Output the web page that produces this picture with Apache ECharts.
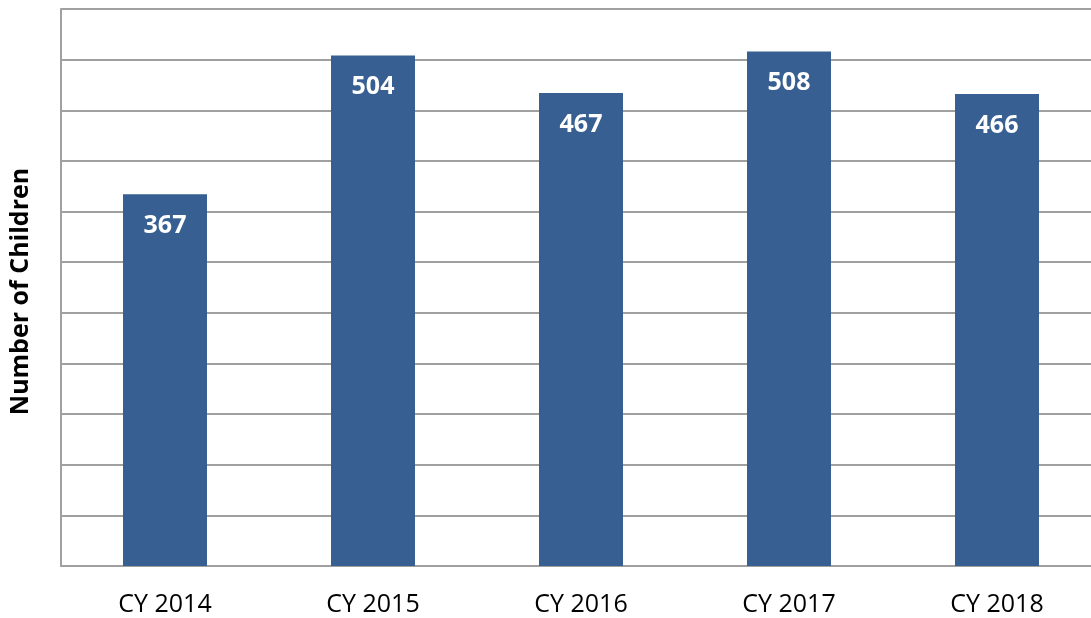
<!DOCTYPE html>
<html>
<head>
<meta charset="utf-8">
<script src="https://cdn.jsdelivr.net/npm/echarts@6/dist/echarts.min.js"></script>
<style>
  html, body { margin: 0; padding: 0; background: #fff; }
  #main { width: 1091px; height: 618px; }
</style>
</head>
<body>
<div id="main"></div>
<script>
// data
var categories = ["CY 2014", "CY 2015", "CY 2016", "CY 2017", "CY 2018"];
var children = [367, 504, 467, 508, 466];
var yMin = 0, yMax = 550, yStep = 50;

var chart = echarts.init(document.getElementById("main"));
var option = {
  animation: false,
  grid: {
    left: 61,
    right: -10,
    top: 9,
    bottom: 52,
    outerBoundsMode: "none"
  },
  xAxis: {
    type: "category",
    data: categories,
    axisTick: { show: false },
    axisLine: { lineStyle: { color: "#a0a0a0", width: 2 } },
    axisLabel: {
      color: "#000",
      fontSize: 25,
      fontFamily: "Open Sans",
      margin: 26
    }
  },
  yAxis: {
    type: "value",
    min: yMin,
    max: yMax,
    interval: yStep,
    name: "Number of Children",
    nameLocation: "middle",
    nameGap: 28,
    nameTextStyle: {
      color: "#000",
      fontSize: 25,
      fontWeight: "bold",
      fontFamily: "Open Sans",
      padding: [0, 8, 0, 0]
    },
    axisLabel: { show: false },
    axisTick: { show: false },
    axisLine: { show: true, lineStyle: { color: "#a0a0a0", width: 2 } },
    splitLine: { lineStyle: { color: "#a0a0a0", width: 2 } }
  },
  series: [
    {
      type: "bar",
      data: children,
      barWidth: 84,
      itemStyle: { color: "#375f91" },
      label: {
        show: true,
        position: "insideTop",
        distance: 19,
        color: "#fff",
        fontSize: 25,
        fontWeight: "bold",
        fontFamily: "Open Sans"
      }
    }
  ]
};
chart.setOption(option);
</script>
</body>
</html>
